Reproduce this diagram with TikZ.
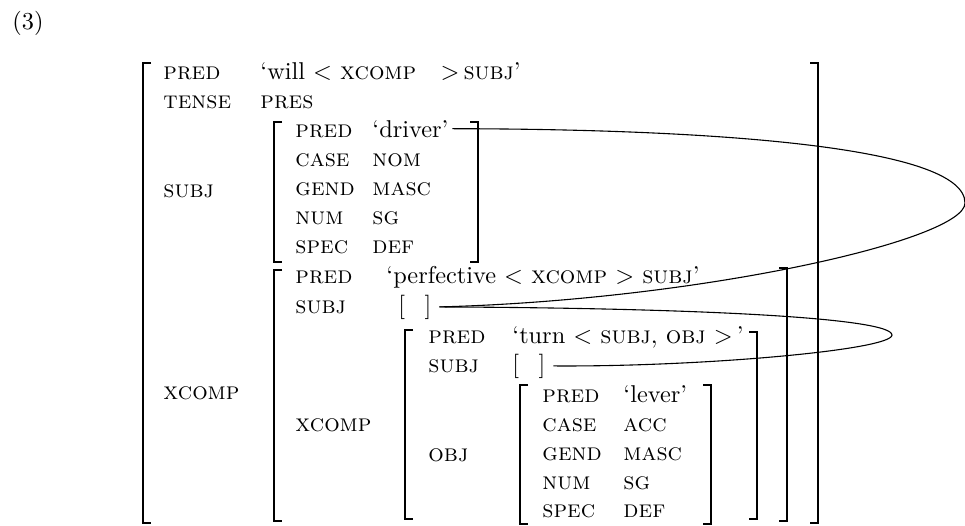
\documentclass[tikz,border=0pt]{standalone}
\begin{document}
\begin{tikzpicture}[x=0.411pt,y=-0.411pt,
  lbl/.style={anchor=base west,inner sep=0pt,font=\scshape},
  val/.style={anchor=base west,inner sep=0pt},
  brk/.style={line width=0.7pt},
  link/.style={line width=0.45pt}]
\useasboundingbox (0,0) rectangle (965,525);
\newcommand{\fsL}[3]{\draw[brk] ({#1+8},#2) -| (#1,#3) -- ({#1+8},#3);}
\newcommand{\fsR}[3]{\draw[brk] ({#1-8},#2) -| (#1,#3) -- ({#1-8},#3);}
% example number
\node[val] (num) at (12,29) {(3)};
% outer f-structure
\fsL{143}{63}{523}
\fsR{818}{63}{523}
\node[lbl] (opred) at (163,79) {pred};
\node[val] (opredv) at (260,79) {`will $<$ \textsc{xcomp}\ \ \ $>$\,\textsc{subj}'};
\node[lbl] (otense) at (163,108) {tense};
\node[val] (otensev) at (260,108) {\textsc{pres}};
\node[lbl] (osubj) at (163,197) {subj};
\node[lbl] (oxcomp) at (163,399) {xcomp};
% SUBJ f-structure
\fsL{274}{122}{262}
\fsR{478}{122}{262}
\node[lbl] (spred) at (295,137) {pred};
\node[val] (spredv) at (372,137) {`driver'};
\node[lbl] (scase) at (295,166) {case};
\node[lbl] (scasev) at (372,166) {nom};
\node[lbl] (sgend) at (295,195) {gend};
\node[lbl] (sgendv) at (372,195) {masc};
\node[lbl] (snum) at (295,224) {num};
\node[lbl] (snumv) at (372,224) {sg};
\node[lbl] (sspec) at (295,253) {spec};
\node[lbl] (sspecv) at (372,253) {def};
% XCOMP f-structure
\fsL{274}{270}{521}
\fsR{787}{268}{521}
\node[lbl] (xpred) at (295,283) {pred};
\node[val] (xpredv) at (386,283) {`perfective $<$ \textsc{xcomp} $>$ \textsc{subj}'};
\node[lbl] (xsubj) at (295,313) {subj};
\node[val] (xsubjv) at (398,313) {[\hspace{0.8em}]};
\node[lbl] (xxcomp) at (295,431) {xcomp};
% inner XCOMP f-structure
\fsL{405}{330}{519}
\fsR{757}{332}{519}
\node[lbl] (ipred) at (428,343) {pred};
\node[val] (ipredv) at (512,343) {`turn $<$ \textsc{subj}$,$ \textsc{obj} $>$\,'};
\node[lbl] (isubj) at (428,372) {subj};
\node[val] (isubjv) at (512,372) {[\hspace{0.8em}]};
\node[lbl] (iobj) at (428,461) {obj};
% OBJ f-structure
\fsL{520}{385}{524}
\fsR{711}{385}{524}
\node[lbl] (bpred) at (542,402) {pred};
\node[val] (bpredv) at (623,402) {`lever'};
\node[lbl] (bcase) at (542,431) {case};
\node[lbl] (bcasev) at (623,431) {acc};
\node[lbl] (bgend) at (542,460) {gend};
\node[lbl] (bgendv) at (623,460) {masc};
\node[lbl] (bnum) at (542,489) {num};
\node[lbl] (bnumv) at (623,489) {sg};
\node[lbl] (bspec) at (542,517) {spec};
\node[lbl] (bspecv) at (623,517) {def};
% links
\coordinate (tipA) at (965,203);
\coordinate (tipB) at (892,335);
\draw[link] ([xshift=1.5pt]spredv.east) .. controls (700,129) and (965,145) .. (tipA)
  .. controls (965,240) and (700,300) .. ([xshift=3pt]xsubjv.east);
\draw[link] ([xshift=3pt]xsubjv.east) .. controls (700,308) and (892,318) .. (tipB)
  .. controls (892,350) and (700,367) .. ([xshift=3pt]isubjv.east);
\end{tikzpicture}
\end{document}
